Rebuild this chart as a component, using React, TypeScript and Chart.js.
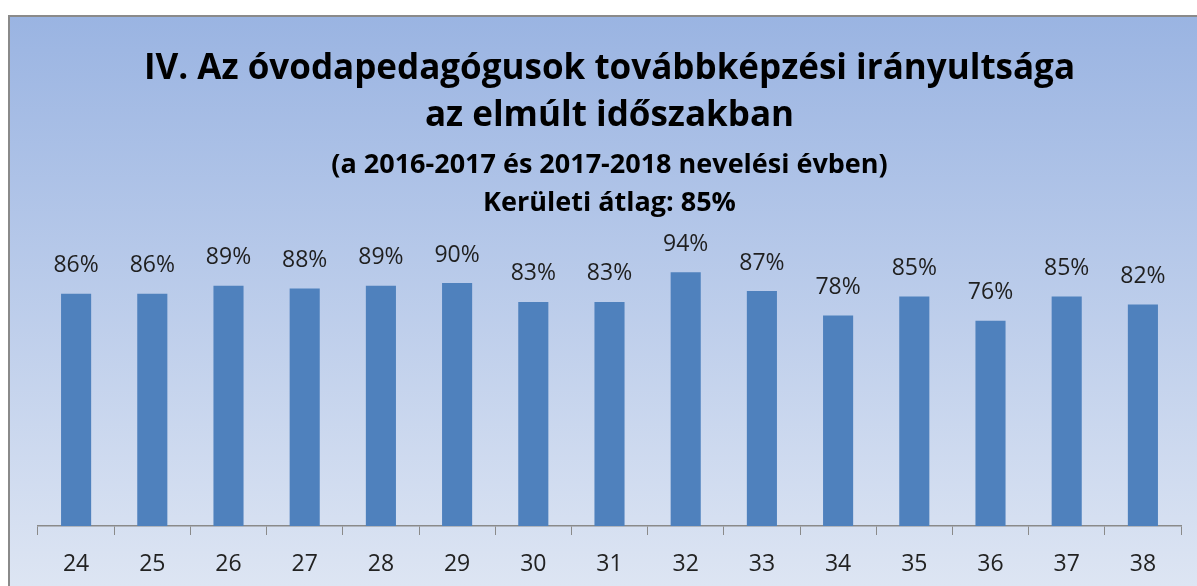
import React, { useEffect, useRef } from "react";
import { Chart, registerables } from "chart.js";

Chart.register(...registerables);

const categories = ["24", "25", "26", "27", "28", "29", "30", "31", "32", "33", "34", "35", "36", "37", "38"];
const values = [86, 86, 89, 88, 89, 90, 83, 83, 94, 87, 78, 85, 76, 85, 82];
const titleLines = ["IV. Az óvodapedagógusok továbbképzési irányultsága", "az elmúlt időszakban"];
const subtitleLines = ["(a 2016-2017 és 2017-2018 nevelési évben)", "Kerületi átlag: 85%"];

const FONT = "'Open Sans', Lato, sans-serif";

const bgPlugin = {
  id: "bgPlugin",
  beforeDraw(chart: any) {
    const ctx = chart.ctx;
    const x0 = 9, y0 = 16;
    const w = chart.width - x0 + 10, h = chart.height - y0 + 10;
    ctx.save();
    const g = ctx.createLinearGradient(0, y0, 0, chart.height);
    g.addColorStop(0, "#9AB4E2");
    g.addColorStop(1, "#DDE5F3");
    ctx.fillStyle = g;
    ctx.fillRect(x0, y0, w, h);
    ctx.strokeStyle = "#8A8A8A";
    ctx.lineWidth = 2;
    ctx.strokeRect(x0, y0, w, h);
    ctx.restore();
  },
};

const labelPlugin = {
  id: "labelPlugin",
  afterDatasetsDraw(chart: any) {
    const ctx = chart.ctx;
    const meta = chart.getDatasetMeta(0);
    ctx.save();
    ctx.fillStyle = "#1F1F1F";
    ctx.font = `23px ${FONT}`;
    ctx.textAlign = "center";
    ctx.textBaseline = "middle";
    meta.data.forEach((bar: any, i: number) => {
      ctx.fillText(values[i] + "%", bar.x, bar.y - 28);
    });
    ctx.restore();
  },
};

export default function App() {
  const ref = useRef<HTMLCanvasElement>(null);
  useEffect(() => {
    document.body.style.margin = "0";
    const chart = new Chart(ref.current!, {
      type: "bar",
      data: {
        labels: categories,
        datasets: [
          {
            data: values,
            backgroundColor: "#4F81BD",
            borderWidth: 0,
            categoryPercentage: 0.79,
            barPercentage: 0.5,
          },
        ],
      },
      options: {
        animation: false,
        responsive: false,
        layout: { padding: { left: 38, right: 16, top: 0, bottom: 0 } },
        plugins: {
          legend: { display: false },
          tooltip: { enabled: false },
          title: {
            display: true,
            text: titleLines,
            color: "#000",
            font: { family: FONT, size: 35, weight: "bold", lineHeight: 47 / 35 },
            padding: { top: 46, bottom: 3 },
          },
          subtitle: {
            display: true,
            text: subtitleLines,
            color: "#000",
            font: { family: FONT, size: 27, weight: "bold", lineHeight: 38 / 27 },
            padding: { top: 3, bottom: 34 },
          },
        },
        scales: {
          x: {
            grid: {
              offset: true,
              drawOnChartArea: false,
              drawTicks: true,
              tickLength: 9,
              color: "#8A8A8A",
            },
            border: { color: "#8A8A8A", width: 1.5 },
            ticks: { color: "#222", font: { family: FONT, size: 23, lineHeight: 1 }, padding: 18 },
            afterFit: (scale: any) => {
              scale.height = 60;
            },
          },
          y: {
            display: false,
            min: 0,
            max: 100,
          },
        },
      },
      plugins: [bgPlugin, labelPlugin],
    });
    return () => chart.destroy();
  }, []);
  return <canvas ref={ref} width={1197} height={586} style={{ display: "block" }} />;
}
